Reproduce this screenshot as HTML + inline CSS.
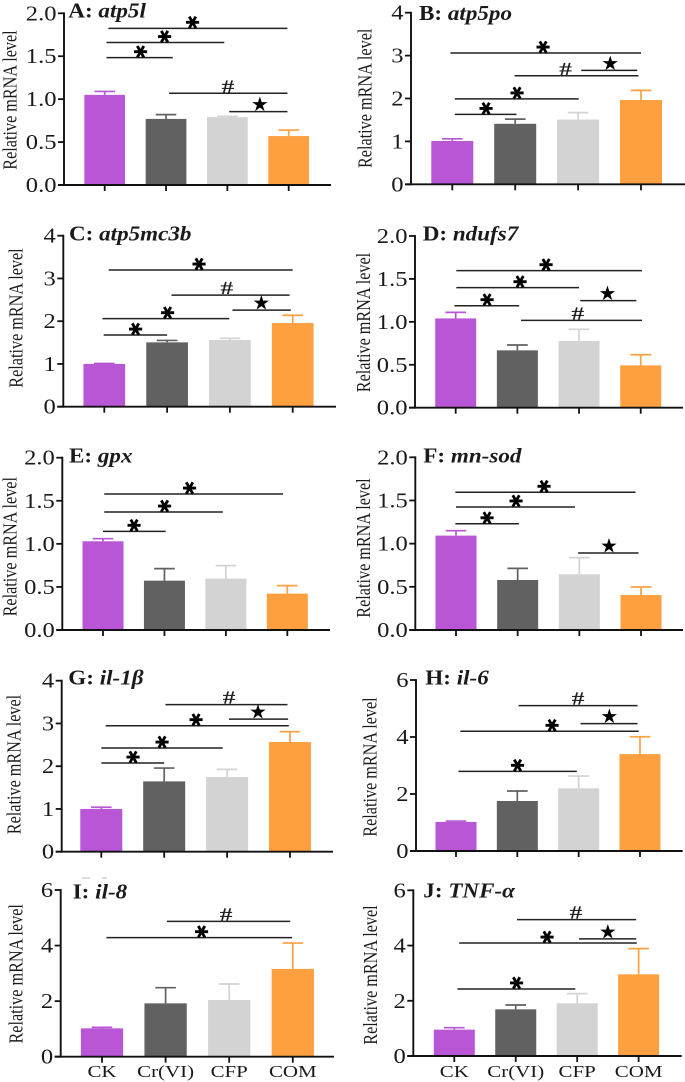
<!DOCTYPE html>
<html>
<head>
<meta charset="utf-8">
<title>Relative mRNA levels</title>
<style>
html,body{margin:0;padding:0;background:#fff;}
svg{display:block;}
text{font-family:"Liberation Serif",serif;fill:#1a1a1a;}
</style>
</head>
<body>
<svg id="chart" xmlns="http://www.w3.org/2000/svg" width="685" height="1082" viewBox="0 0 685 1082">
<rect x="82" y="877.5" width="8" height="1" fill="#bbb"/>
<rect x="102" y="877.5" width="5" height="1" fill="#bbb"/>
</svg>
<script>
// ---------- data ----------
const categories = ['CK', 'Cr(VI)', 'CFP', 'COM'];
const letters = ['A', 'B', 'C', 'D', 'E', 'F', 'G', 'H', 'I', 'J'];
const genes = ['atp5l', 'atp5po', 'atp5mc3b', 'ndufs7', 'gpx', 'mn-sod', 'il-1β', 'il-6', 'il-8', 'TNF-α'];
const ticks2 = ['0.0', '0.5', '1.0', '1.5', '2.0'];
const ticks4 = ['0', '1', '2', '3', '4'];
const ticks6 = ['0', '2', '4', '6'];

const meansA = [1.05, 0.77, 0.79, 0.57];
const upperA = [1.09, 0.82, 0.80, 0.64];
const meansB = [1.01, 1.41, 1.51, 1.965];
const upperB = [1.06, 1.52, 1.67, 2.19];
const meansC = [1.0, 1.505, 1.56, 1.957];
const upperC = [1.01, 1.55, 1.60, 2.14];
const meansD = [1.04, 0.668, 0.777, 0.493];
const upperD = [1.11, 0.73, 0.913, 0.617];
const meansE = [1.03, 0.573, 0.596, 0.422];
const upperE = [1.06, 0.712, 0.747, 0.515];
const meansF = [1.093, 0.579, 0.645, 0.405];
const upperF = [1.15, 0.714, 0.838, 0.498];
const meansG = [1.0, 1.645, 1.747, 2.565];
const upperG = [1.04, 1.957, 1.926, 2.807];
const meansH = [1.02, 1.754, 2.2, 3.40];
const upperH = [1.05, 2.105, 2.63, 4.01];
const meansI = [1.02, 1.92, 2.04, 3.16];
const upperI = [1.056, 2.484, 2.616, 4.09];
const meansJ = [0.954, 1.69, 1.907, 2.958];
const upperJ = [1.026, 1.847, 2.258, 3.887];

// significance brackets: [from category, to category, value level, symbol, symbol category]
const sigA = [[0.06,2.98,1.825,'*',1.43],[0.03,1.95,1.66,'*',0.97],[0.03,1.11,1.483,'*',0.576],[1.05,2.98,1.068,'#',2.01],[2.03,2.98,0.854,'s',2.53]];
const sigB = [[-0.03,3.0,3.06,'*',1.44],[2.05,2.94,2.656,'s',2.51],[0.99,2.96,2.53,'#',1.80],[0.04,2.01,1.99,'*',1.02],[0.04,1.02,1.63,'*',0.53]];
const sigC = [[0.07,3.0,3.197,'*',1.50],[1.07,2.95,2.61,'#',1.95],[2.04,2.97,2.26,'s',2.5],[-0.03,1.99,2.06,'*',1.0],[-0.01,1.0,1.676,'*',0.49]];
const sigD = [[0.01,3.02,1.596,'*',1.46],[0.01,2.0,1.398,'*',1.04],[2.02,2.93,1.247,'s',2.46],[-0.02,1.03,1.188,'*',0.5],[1.06,3.02,1.017,'#',1.98]];
const sigE = [[0.02,2.93,1.578,'*',1.40],[0.02,1.95,1.369,'*',1.0],[0,1.02,1.145,'*',0.5]];
const sigF = [[-0.01,2.91,1.595,'*',1.42],[0,1.93,1.425,'*',0.97],[-0.01,1.02,1.23,'*',0.5],[1.98,2.96,0.892,'s',2.48]];
const sigG = [[1.02,2.96,3.44,'#',2.03],[2.03,2.97,3.10,'s',2.49],[0.07,2.98,2.947,'*',1.50],[0,1.93,2.425,'*',0.96],[0,1.0,2.074,'*',0.5]];
const sigH = [[1.02,2.96,5.10,'#',1.99],[2.03,2.96,4.47,'s',2.5],[0.07,2.98,4.2,'*',1.56],[0.04,1.97,2.795,'*',1.0]];
const sigI = [[1.02,2.96,4.87,'#',1.95],[0.07,2.99,4.284,'*',1.56]];
const sigJ = [[1.02,2.96,4.94,'#',1.98],[2.03,2.96,4.24,'s',2.5],[0.08,2.97,4.09,'*',1.5],[0.05,1.97,2.427,'*',1.01]];

const panelMeans = [meansA, meansB, meansC, meansD, meansE, meansF, meansG, meansH, meansI, meansJ];
const panelUpper = [upperA, upperB, upperC, upperD, upperE, upperF, upperG, upperH, upperI, upperJ];
const panelSig = [sigA, sigB, sigC, sigD, sigE, sigF, sigG, sigH, sigI, sigJ];
const panelTicks = [ticks2, ticks4, ticks4, ticks2, ticks2, ticks2, ticks4, ticks6, ticks6, ticks6];

// ---------- layout (separate from data) ----------
const frames = [
 {ax:64,   y0:185,    top:13.3,  right:331, c0:104.7, step:61.33, bw:40.7, titleX:68.3,  titleY:17.7,  yTitleX:16.7,  yTitleY:100},
 {ax:411,  y0:184.3,  top:12.7,  right:685, c0:452.3, step:62.9,  bw:42,   titleX:419,   titleY:20,    yTitleX:371.7, yTitleY:98.3},
 {ax:63.3, y0:406.7,  top:235.7, right:336, c0:104.3, step:62.8,  bw:41.7, titleX:69,    titleY:240.7, yTitleX:22.7,  yTitleY:318},
 {ax:415,  y0:407.7,  top:236,   right:683, c0:455.7, step:61.67, bw:41,   titleX:422.7, titleY:240.7, yTitleX:370,   yTitleY:322.5},
 {ax:62.3, y0:630,    top:457.7, right:330, c0:103,   step:61.44, bw:41,   titleX:69,    titleY:462.7, yTitleX:16.7,  yTitleY:546.7},
 {ax:415.3,y0:630,    top:457.3, right:683, c0:456,   step:61.67, bw:41,   titleX:423.3, titleY:462.3, yTitleX:370,   yTitleY:548},
 {ax:61.7, y0:851.7,  top:680.7, right:333, c0:101.3, step:62.9,  bw:42,   titleX:68.3,  titleY:684.3, yTitleX:20.7,  yTitleY:764.5},
 {ax:416,  y0:851,    top:680,   right:682.7,c0:456,  step:61.33, bw:41,   titleX:425.3, titleY:684.3, yTitleX:376.7, yTitleY:767},
 {ax:60.7, y0:1056.7, top:890,   right:334, c0:102,   step:63.6,  bw:42.3, titleX:72.7,  titleY:898.3, yTitleX:22.7,  yTitleY:973.8},
 {ax:413.3,y0:1056,   top:890.3, right:681.7,c0:454.3,step:61.44, bw:41,   titleX:423.3, titleY:897.7, yTitleX:377,   yTitleY:975}
];
const barColors = ['#B956D6', '#616161', '#D3D3D3', '#FFA040'];
const symbolGlyphs = {'*': '\u2731', '#': '#', 's': '\u2605'};
const SVG_NS = 'http://www.w3.org/2000/svg';
const root = document.getElementById('chart');

function make(tag, parent, attrs, txt) {
  const node = document.createElementNS(SVG_NS, tag);
  for (const k in attrs) node.setAttribute(k, attrs[k]);
  if (txt !== undefined) node.textContent = txt;
  parent.appendChild(node);
  return node;
}

panelMeans.forEach(function (means, p) {
  const f = frames[p];
  const labels = panelTicks[p];
  const yMax = parseFloat(labels[labels.length - 1]);
  const yScale = function (v) { return f.y0 - (v / yMax) * (f.y0 - f.top); };
  const xScale = function (c) { return f.c0 + c * f.step; };

  const g = make('g', root, {});
  
  

  // bars + error bars
  means.forEach(function (m, i) {
    const cx = xScale(i);
    const color = barColors[i];
    const stem = make('line', g, {x1: cx, x2: cx, y1: yScale(m), y2: yScale(panelUpper[p][i]), stroke: color, 'stroke-width': 1.7});
    
    
    const cap = make('line', g, {x1: cx - 10.3, x2: cx + 10.3, y1: yScale(panelUpper[p][i]), y2: yScale(panelUpper[p][i]), stroke: color, 'stroke-width': 1.7});
    
    
    const bar = make('rect', g, {x: cx - f.bw / 2, y: yScale(m), width: f.bw, height: f.y0 - yScale(m), fill: color});
    
    
    const tick = make('line', g, {x1: cx, x2: cx, y1: f.y0, y2: f.y0 + 6, stroke: '#111', 'stroke-width': 1.8});
    
    
    if (p >= 8) {
      const lab = make('text', g, {transform: 'translate(' + cx + ',1077) scale(1.27,1)', 'text-anchor': 'middle', 'font-size': 16.5}, categories[i]);
      
      
    }
  });

  // axes
  const yAxis = make('line', g, {x1: f.ax, x2: f.ax, y1: f.top - 0.9, y2: f.y0 + 0.9, stroke: '#111', 'stroke-width': 1.9});
  
  
  const xAxis = make('line', g, {x1: f.ax - 6, x2: f.right, y1: f.y0, y2: f.y0, stroke: '#111', 'stroke-width': 1.9});
  
  

  labels.forEach(function (t) {
    const y = yScale(parseFloat(t));
    const tk = make('line', g, {x1: f.ax - 6, x2: f.ax, y1: y, y2: y, stroke: '#111', 'stroke-width': 1.8});
    
    
    const tl = make('text', g, {transform: 'translate(' + (f.ax - 7.5) + ',' + (y + 7) + ') scale(1.17,1)', 'text-anchor': 'end', 'font-size': 21}, t);
    
    
  });

  // axis title
  const yt = make('text', g, {transform: 'translate(' + f.yTitleX + ',' + f.yTitleY + ') rotate(-90) scale(0.81,1)', 'text-anchor': 'middle', 'font-size': 20}, 'Relative mRNA level');
  
  

  // panel title
  const title = make('text', g, {transform: 'translate(' + f.titleX + ',' + f.titleY + ') scale(1.1,1)', 'font-size': 21, 'font-weight': 'bold'});
  
  
  make('tspan', title, {}, letters[p] + ': ');
  make('tspan', title, {'font-style': 'italic'}, genes[p]);

  // significance annotations
  panelSig[p].forEach(function (s) {
    const ly = yScale(s[2]);
    const line = make('line', g, {x1: xScale(s[0]), x2: xScale(s[1]), y1: ly, y2: ly, stroke: '#222', 'stroke-width': 1.5});
    
    
    const sx = xScale(s[4]);
    let mark;
    if (s[3] === '*') {
      mark = make('text', g, {transform: 'translate(' + sx + ',' + (ly - 6) + ') rotate(90) translate(0,6.2)', 'text-anchor': 'middle', 'font-size': 18, style: 'font-family:"DejaVu Sans",sans-serif;fill:#000'}, symbolGlyphs['*']);
    } else if (s[3] === '#') {
      mark = make('text', g, {transform: 'translate(' + sx + ',' + (ly - 1) + ') scale(1.4,1)', 'text-anchor': 'middle', 'font-size': 18, stroke: '#1a1a1a', 'stroke-width': 0.3}, symbolGlyphs['#']);
    } else {
      mark = make('text', g, {transform: 'translate(' + sx + ',' + (ly - 0.5) + ')', 'text-anchor': 'middle', 'font-size': 20, style: 'font-family:"DejaVu Sans",sans-serif;fill:#000'}, symbolGlyphs['s']);
    }
    
    
  });
});
</script>
</body>
</html>
